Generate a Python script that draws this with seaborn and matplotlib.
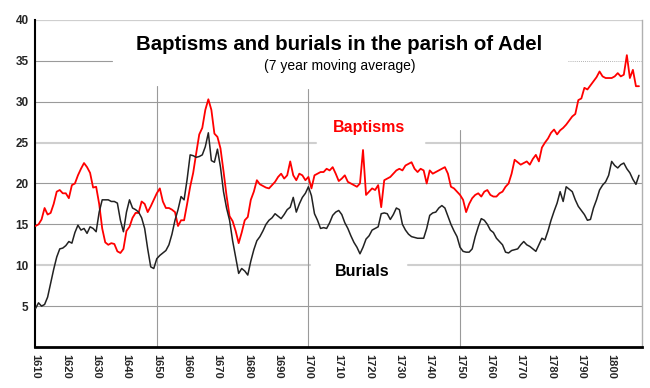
import numpy as np
import pandas as pd
import matplotlib
matplotlib.use("Agg")
import matplotlib.pyplot as plt
import seaborn as sns

# 7 year moving averages, one value per year from 1610
first_year = 1610
baptisms = [
    14.8, 15.0, 15.6, 17.0, 16.2, 16.4, 17.5, 19.0, 19.2, 18.8,   # 1610s
    18.8, 18.2, 19.8, 20.0, 21.0, 21.8, 22.5, 22.0, 21.3, 19.5,   # 1620s
    19.6, 17.5, 14.5, 12.8, 12.5, 12.7, 12.6, 11.7, 11.5, 12.0,   # 1630s
    14.2, 14.7, 15.8, 16.4, 16.4, 17.8, 17.5, 16.5, 17.2, 18.0,   # 1640s
    18.8, 19.4, 17.8, 17.0, 17.0, 16.8, 16.5, 14.8, 15.5, 15.5,   # 1650s
    17.5, 19.6, 21.3, 23.7, 26.0, 26.8, 29.0, 30.3, 29.0, 26.1,   # 1660s
    25.7, 24.3, 21.5, 18.5, 16.0, 15.4, 14.2, 12.7, 14.0, 15.5,   # 1670s
    15.9, 18.0, 19.0, 20.4, 19.9, 19.7, 19.5, 19.4, 19.8, 20.2,   # 1680s
    20.8, 21.2, 20.6, 21.0, 22.7, 21.0, 20.4, 21.2, 21.0, 20.4,   # 1690s
    20.8, 19.4, 21.0, 21.2, 21.4, 21.4, 21.8, 21.6, 22.0, 21.2,   # 1700s
    20.3, 20.6, 21.0, 20.2, 20.0, 19.8, 19.6, 20.0, 24.1, 18.6,   # 1710s
    19.0, 19.4, 19.2, 19.8, 17.1, 20.4, 20.6, 20.8, 21.2, 21.6,   # 1720s
    21.8, 21.6, 22.2, 22.4, 22.6, 21.8, 21.4, 21.8, 21.6, 20.0,   # 1730s
    21.6, 21.2, 21.4, 21.6, 21.8, 22.0, 21.2, 19.6, 19.4, 19.0,   # 1740s
    18.6, 18.0, 16.5, 17.5, 18.2, 18.6, 18.8, 18.4, 19.0, 19.2,   # 1750s
    18.6, 18.4, 18.4, 18.8, 19.0, 19.6, 20.0, 21.2, 22.9, 22.6,   # 1760s
    22.3, 22.5, 22.7, 22.3, 23.0, 23.5, 22.7, 24.4, 25.0, 25.5,   # 1770s
    26.2, 26.6, 26.0, 26.5, 26.8, 27.2, 27.7, 28.2, 28.5, 30.2,   # 1780s
    30.4, 31.7, 31.5, 32.0, 32.5, 33.0, 33.7, 33.1, 32.9, 32.9,   # 1790s
    32.9, 33.1, 33.5, 33.1, 33.3, 35.7, 32.9, 33.9, 31.9, 31.9,   # 1800s
]
burials = [
    4.7, 5.4, 5.0, 5.2, 6.1, 7.8, 9.5, 11.0, 12.0, 12.1,
    12.4, 12.9, 12.7, 14.0, 14.9, 14.3, 14.5, 13.9, 14.7, 14.5,
    14.1, 16.5, 18.0, 18.0, 18.0, 17.8, 17.8, 17.6, 15.5, 14.1,
    16.5, 18.0, 17.0, 16.8, 16.5, 15.8, 14.5, 12.0, 9.8, 9.6,
    10.8, 11.2, 11.5, 11.8, 12.5, 13.8, 15.5, 16.8, 18.4, 18.0,
    20.5, 23.5, 23.4, 23.2, 23.3, 23.5, 24.5, 26.2, 22.8, 22.6,
    24.2, 22.0, 19.0, 17.0, 15.5, 13.0, 11.0, 9.0, 9.6, 9.3,
    8.8, 10.5, 11.9, 13.0, 13.5, 14.2, 15.0, 15.5, 15.8, 16.3,
    16.0, 15.7, 16.2, 16.8, 17.1, 18.3, 16.5, 17.5, 18.3, 18.8,
    19.6, 18.5, 16.3, 15.5, 14.5, 14.6, 14.5, 15.2, 16.1, 16.5,
    16.7, 16.2, 15.2, 14.5, 13.6, 12.8, 12.2, 11.4, 12.2, 13.2,
    13.6, 14.3, 14.5, 14.7, 16.3, 16.4, 16.3, 15.6, 16.2, 17.0,
    16.8, 15.0, 14.3, 13.8, 13.5, 13.4, 13.3, 13.3, 13.3, 14.5,
    16.1, 16.4, 16.5, 17.0, 17.3, 17.0, 16.0, 15.0, 14.2, 13.5,
    12.2, 11.7, 11.6, 11.6, 12.0, 13.5, 14.7, 15.7, 15.5, 15.0,
    14.3, 14.0, 13.3, 12.9, 12.5, 11.6, 11.5, 11.8, 11.9, 12.0,
    12.5, 12.9, 12.5, 12.3, 12.0, 11.7, 12.5, 13.3, 13.1, 14.2,
    15.5, 16.6, 17.6, 19.0, 17.8, 19.6, 19.3, 19.0, 18.0, 17.2,
    16.7, 16.2, 15.5, 15.6, 17.0, 18.0, 19.2, 19.8, 20.2, 21.0,
    22.7, 22.2, 21.9, 22.3, 22.5, 21.8, 21.3, 20.5, 19.9, 21.0,
]
years = list(range(first_year, first_year + len(baptisms)))
x_ticks = list(range(1610, 1801, 10))
y_ticks = [5, 10, 15, 20, 25, 30, 35, 40]

df = pd.DataFrame({"year": years, "Baptisms": baptisms, "Burials": burials})

sns.set_style("white")
plt.rcParams["font.family"] = ["Liberation Sans", "DejaVu Sans"]

fig = plt.figure(figsize=(6.5, 3.88), dpi=100)
ax = fig.add_axes([0.0546, 0.1057, 0.9331, 0.8428])

x0, x1 = 1610, 1810
ax.set_xlim(x0, x1)
ax.set_ylim(0, 40)

def frac(yr):
    return (yr - x0) / (x1 - x0)

dark = "#9a9a9a"
light = "#cfcfcf"
# horizontal grid, some broken where the labels sit
ax.axhline(5, color=dark, lw=0.8, zorder=1)
ax.axhline(10, 0, frac(1700.5), color=light, lw=1.5, zorder=1)
ax.axhline(10, frac(1732.8), 1, color=light, lw=1.5, zorder=1)
ax.axhline(15, color=dark, lw=0.8, zorder=1)
ax.axhline(20, color=dark, lw=0.8, zorder=1)
ax.axhline(25, 0, frac(1702.5), color=light, lw=1.5, zorder=1)
ax.axhline(25, frac(1738.7), 1, color=light, lw=1.5, zorder=1)
ax.axhline(30, color=dark, lw=0.8, zorder=1)
ax.axhline(35, 0, frac(1635.2), color=dark, lw=0.8, zorder=1)
ax.axhline(35, frac(1785.6), 1, color=dark, lw=0.6, ls=(0, (1, 1.5)), zorder=1)
ax.axhline(40, color=light, lw=1.6, zorder=1)
# vertical markers every half century
ax.axvline(1650, 0, 31.9 / 40, color=dark, lw=0.8, zorder=1)
ax.axvline(1700, 0, 31.5 / 40, color=dark, lw=0.8, zorder=1)
ax.axvline(1750, 0, 26.5 / 40, color=dark, lw=0.8, zorder=1)

sns.lineplot(data=df, x="year", y="Baptisms", color="#ff0000", lw=1.3, ax=ax, zorder=3)
sns.lineplot(data=df, x="year", y="Burials", color="#222222", lw=1.1, ax=ax, zorder=3)

ax.set_xticks(x_ticks)
ax.set_xticklabels([str(t) for t in x_ticks], rotation=-90, fontsize=8, fontweight="bold")
ax.set_yticks(y_ticks)
ax.set_yticklabels([str(t) for t in y_ticks], fontsize=8.5, fontweight="bold")
ax.tick_params(axis="both", direction="out", length=3, width=1, color="black", pad=2)
ax.set_xlabel("")
ax.set_ylabel("")

for side in ["left", "bottom"]:
    ax.spines[side].set_color("black")
ax.spines["left"].set_linewidth(1.5)
ax.spines["bottom"].set_linewidth(2)
ax.spines["top"].set_visible(False)
ax.spines["right"].set_color("#b0b0b0")
ax.spines["right"].set_linewidth(1)

ax.text(1710.2, 37.0, "Baptisms and burials in the parish of Adel",
        ha="center", va="center", fontsize=14.7, fontweight="bold", color="black")
ax.text(1710.4, 34.4, "(7 year moving average)",
        ha="center", va="center", fontsize=10, color="black")
ax.text(1720, 26.8, "Baptisms", ha="center", va="center",
        fontsize=11.5, fontweight="bold", color="#ff0000")
ax.text(1717.8, 9.2, "Burials", ha="center", va="center",
        fontsize=11.5, fontweight="bold", color="black")

fig.savefig("out.png", dpi=100)
